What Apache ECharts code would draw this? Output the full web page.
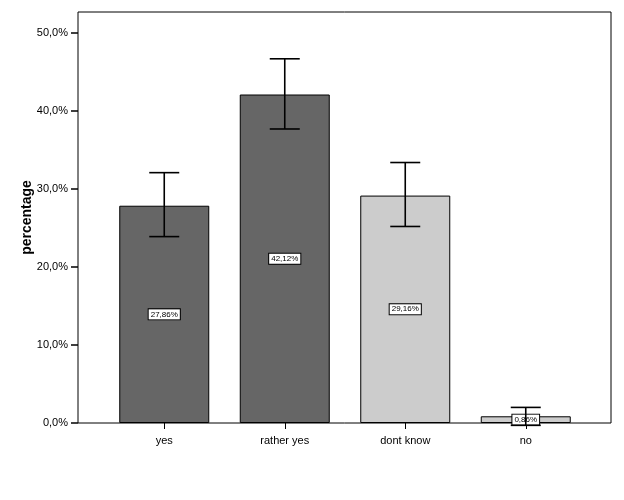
<!DOCTYPE html>
<html lang="en">
<head>
    <meta charset="UTF-8">
    <title>percentage</title>
    <style>
        html,body{
            height: 100%;
        }
        body{
            margin: 0;
            padding: 0;
            background: #fff;
        }
        #chart{
            width: 624px;
            height: 500px;
        }
    </style>
</head>
<body>
    <div id="chart"></div>
</body>
</html>
<script src="https://cdn.jsdelivr.net/npm/echarts@6/dist/echarts.min.js"></script>
<script>
    var categories = ['yes', 'rather yes', 'dont know', 'no'];
    var percents = [27.86, 42.12, 29.16, 0.86];
    var ciLow = [23.9, 37.7, 25.2, -0.3];
    var ciHigh = [32.1, 46.7, 33.4, 2.0];

    var fills = ['#666666', '#666666', '#cccccc', '#cccccc'];
    var font = '"Liberation Sans", Arial, sans-serif';

    function pct(v) {
        return v.toFixed(1).replace('.', ',') + '%';
    }

    var errData = categories.map(function (c, i) {
        return [i, ciLow[i], ciHigh[i]];
    });

    var myChart = echarts.init(document.getElementById('chart'));

    myChart.setOption({
        animation: false,
        textStyle: { fontFamily: font },
        grid: [
            { left: 104, right: 38, top: 12, bottom: 77 },
            { left: 78, right: 13, top: 12, bottom: 77, show: true,
              borderColor: '#000', borderWidth: 1, backgroundColor: 'transparent' }
        ],
        xAxis: [{
            type: 'category',
            gridIndex: 0,
            data: categories,
            axisLine: { show: false },
            axisTick: { show: true, alignWithLabel: true, length: 6,
                        lineStyle: { color: '#000', width: 1 } },
            axisLabel: { color: '#000', fontSize: 11, margin: 12, fontFamily: font }
        }, {
            type: 'value', gridIndex: 1, show: false
        }],
        yAxis: [{
            type: 'value',
            gridIndex: 0,
            min: 0,
            max: 52.7,
            interval: 10,
            offset: 26,
            name: 'percentage',
            nameLocation: 'middle',
            nameGap: 44,
            nameMoveOverlap: false,
            nameTextStyle: { color: '#000', fontSize: 14, fontWeight: 'bold', fontFamily: font },
            axisLine: { show: false },
            axisTick: { show: true, inside: false, length: 7, lineStyle: { color: '#000', width: 1.5 } },
            splitLine: { show: false },
            axisLabel: {
                color: '#000', fontSize: 11, margin: 10, fontFamily: font,
                showMaxLabel: false,
                formatter: function (v) { return pct(v); }
            }
        }, {
            type: 'value', gridIndex: 1, show: false
        }],
        series: [{
            type: 'bar',
            xAxisIndex: 0,
            yAxisIndex: 0,
            data: percents,
            barWidth: 90,
            itemStyle: {
                color: function (p) { return fills[p.dataIndex]; },
                borderColor: '#000',
                borderWidth: 1
            },
            label: {
                show: true,
                position: 'inside',
                color: '#000',
                fontSize: 8,
                fontFamily: font,
                backgroundColor: '#fff',
                borderColor: '#000',
                borderWidth: 1,
                padding: [1, 2],
                formatter: function (p) {
                    return p.value.toFixed(2).replace('.', ',') + '%';
                }
            },
            z: 2
        }, {
            type: 'custom',
            xAxisIndex: 0,
            yAxisIndex: 0,
            data: errData,
            clip: false,
            z: 5,
            renderItem: function (params, api) {
                var x = api.value(0);
                var lo = api.coord([x, api.value(1)]);
                var hi = api.coord([x, api.value(2)]);
                var half = 15;
                var style = { stroke: '#000', lineWidth: 1.6 };
                return {
                    type: 'group',
                    children: [
                        { type: 'line', shape: { x1: lo[0], y1: lo[1], x2: hi[0], y2: hi[1] }, style: style },
                        { type: 'line', shape: { x1: hi[0] - half, y1: hi[1], x2: hi[0] + half, y2: hi[1] }, style: style },
                        { type: 'line', shape: { x1: lo[0] - half, y1: lo[1], x2: lo[0] + half, y2: lo[1] }, style: style }
                    ]
                };
            }
        }]
    });
</script>
